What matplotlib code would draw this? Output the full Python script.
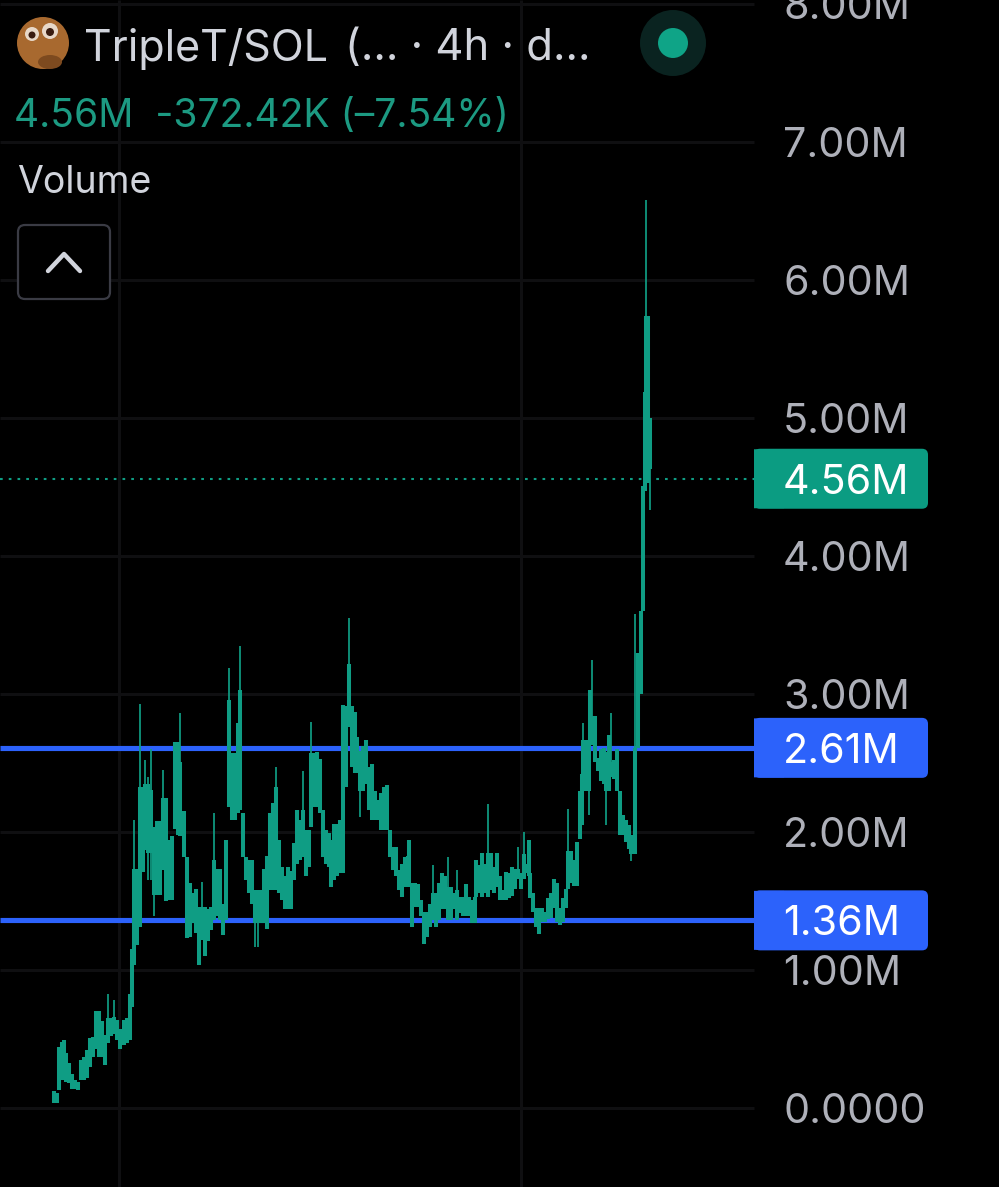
import matplotlib
matplotlib.use("Agg")
import matplotlib.pyplot as plt
from matplotlib.patches import Circle, Ellipse, FancyBboxPatch, Rectangle

plt.rcParams['font.family'] = ['Inter', 'DejaVu Sans']

BG = '#000000'
GRID = '#0f0f11'
TEAL = '#0f9d84'
BLUE = '#2c62fb'
AXIS_TEXT = '#aeb0b9'
HEAD_TEXT = '#d1d4dc'

# hours since first bar, body low, body high (millions)
bar_t = [3, 9, 13, 19, 23, 28, 34, 40, 46, 52, 57, 63, 69, 76, 81, 87, 93, 99, 105, 111,
         117, 123, 129, 136, 143, 149, 156, 160, 164, 170, 176, 181, 186, 192, 198, 204, 209, 216, 222, 228,
         234, 240, 246, 252, 256, 263, 269, 276, 282, 288, 294, 300, 306, 312, 318, 324, 330, 336, 342, 348,
         354, 360, 366, 372, 376, 382, 388, 394, 400, 406, 412, 418, 424, 430, 436, 442, 448, 454, 460, 466,
         472, 478, 484, 490, 496, 502, 508, 514, 518, 523, 529, 535, 541, 547, 553, 558, 564, 570, 576, 582,
         588, 594, 600, 606, 610, 615, 621, 627, 633, 639, 645, 651, 657, 663, 669, 675, 681, 687, 693, 699,
         705, 711, 714, 719, 725, 731, 737, 743, 749, 755, 761, 767, 773, 779, 785, 791, 797, 803, 809, 815,
         821, 827, 833, 839, 845, 848, 854, 860, 866, 872, 878, 884, 890, 896, 902, 908, 914, 920, 926, 932,
         938, 944, 950, 954, 956, 962, 968, 974, 980, 986, 992, 998, 1004, 1010, 1016, 1022, 1028, 1032, 1038, 1044,
         1050, 1056, 1060, 1062, 1068, 1074, 1076, 1080, 1086, 1092, 1098, 1104, 1108, 1114, 1118, 1124, 1130, 1136, 1142, 1148,
         1154, 1158, 1164, 1166, 1172, 1178, 1182, 1186, 1188, 1192, 1196]
bar_low = [.035, .035, .13, .20, .20, .19, .18, .14, .136, .13, .20, .20, .216, .30, .373, .43, .37, .37, .31, .47,
           .52, .54, .49, .43, .46, .47, .49, .735, 1.04, 1.18, 1.315, 1.71, 1.87, 1.85, 1.85, 1.545, 1.545, 1.545, 1.725, 1.50,
           1.51, 1.51, 2.02, 1.98, 1.97, 1.82, 1.23, 1.24, 1.34, 1.27, 1.04, 1.22, 1.10, 1.21, 1.29, 1.36, 1.39, 1.36, 1.255, 1.36,
           2.18, 2.09, 2.09, 2.14, 2.16, 1.82, 1.65, 1.56, 1.48, 1.34, 1.34, 1.34, 1.34, 1.30, 1.58, 1.58, 1.58, 1.56, 1.51, 1.44,
           1.44, 1.44, 1.65, 1.77, 1.80, 1.82, 1.68, 1.75, 2.04, 2.18, 2.18, 2.14, 1.82, 1.77, 1.75, 1.60, 1.65, 1.68, 1.70, 1.70,
           2.33, 2.76, 2.47, 2.43, 2.43, 2.30, 2.30, 2.35, 2.16, 2.09, 2.09, 2.09, 2.015, 2.015, 2.015, 1.82, 1.725, 1.68, 1.58, 1.53,
           1.60, 1.60, 1.60, 1.31, 1.46, 1.46, 1.39, 1.19, 1.24, 1.31, 1.36, 1.31, 1.36, 1.44, 1.44, 1.36, 1.36, 1.44, 1.36, 1.41,
           1.39, 1.39, 1.39, 1.34, 1.34, 1.53, 1.56, 1.53, 1.56, 1.53, 1.58, 1.56, 1.60, 1.51, 1.51, 1.51, 1.52, 1.54, 1.59, 1.66,
           1.59, 1.66, 1.70, 1.68, 1.52, 1.42, 1.31, 1.26, 1.35, 1.35, 1.37, 1.38, 1.45, 1.35, 1.33, 1.35, 1.45, 1.59, 1.63, 1.61,
           1.61, 1.95, 2.05, 2.33, 2.30, 2.30, 2.65, 2.63, 2.51, 2.44, 2.37, 2.35, 2.30, 2.30, 2.40, 2.385, 2.30, 1.98, 1.98, 1.93,
           1.875, 1.84, 1.84, 1.84, 2.61, 3.00, 3.60, 4.47, 4.63, 4.53, 4.63]
bar_high = [.12, .11, .445, .48, .49, .40, .325, .25, .20, .19, .35, .37, .42, .506, .518, .70, .70, .63, .53, .65,
            .65, .66, .64, .57, .64, .65, .83, 1.15, 1.73, 1.73, 2.33, 2.33, 2.35, 2.35, 2.305, 2.04, 2.08, 2.08, 2.245, 2.245,
            1.94, 1.97, 2.655, 2.655, 2.51, 2.15, 1.82, 1.63, 1.56, 1.59, 1.46, 1.46, 1.46, 1.44, 1.46, 1.80, 1.73, 1.73, 1.48, 1.94,
            2.96, 2.57, 2.57, 2.79, 3.03, 2.14, 1.82, 1.80, 1.80, 1.58, 1.58, 1.58, 1.73, 1.83, 2.14, 2.21, 2.33, 1.94, 1.75, 1.68,
            1.75, 1.72, 1.92, 2.16, 2.09, 2.16, 2.015, 2.015, 2.57, 2.57, 2.58, 2.53, 2.16, 2.015, 1.99, 1.94, 2.06, 2.06, 2.09, 2.92,
            2.91, 3.22, 2.91, 2.87, 2.69, 2.59, 2.62, 2.67, 2.47, 2.49, 2.30, 2.23, 2.28, 2.33, 2.34, 2.015, 1.89, 1.89, 1.725, 1.77,
            1.82, 1.83, 1.94, 1.63, 1.63, 1.62, 1.51, 1.42, 1.42, 1.48, 1.56, 1.56, 1.63, 1.70, 1.68, 1.60, 1.60, 1.56, 1.58, 1.53,
            1.53, 1.62, 1.53, 1.51, 1.53, 1.80, 1.76, 1.85, 1.77, 1.85, 1.85, 1.75, 1.85, 1.68, 1.58, 1.71, 1.70, 1.75, 1.73, 1.73,
            1.70, 1.84, 1.77, 1.945, 1.70, 1.56, 1.45, 1.45, 1.45, 1.42, 1.52, 1.56, 1.66, 1.63, 1.45, 1.52, 1.59, 1.86, 1.86, 1.80,
            1.93, 2.30, 2.42, 2.665, 2.665, 2.665, 3.03, 2.84, 2.84, 2.54, 2.60, 2.61, 2.58, 2.70, 2.51, 2.52, 2.60, 2.30, 2.12, 2.09,
            2.05, 1.98, 1.98, 2.61, 3.30, 3.60, 4.51, 5.19, 5.74, 5.74, 5.00]

# thin wicks that stick out of the bodies
wick_t = [111, 123, 164, 176, 186, 192, 198, 204, 222, 256, 300, 324, 354, 376, 406, 412, 448, 502, 518, 594,
          615, 761, 791, 809, 872, 932, 944, 1032, 1062, 1074, 1080, 1108, 1118, 1158, 1166, 1188, 1196]
wick_low = [.47, .54, 1.04, 1.315, 1.87, 1.65, 1.65, 1.39, 1.725, 1.97, 1.22, 1.36, 2.18, 2.16, 1.17, 1.17, 1.58, 1.82, 2.04, 2.76,
            2.11, 1.36, 1.36, 1.36, 1.53, 1.66, 1.66, 1.59, 2.33, 2.12, 2.63, 2.05, 2.40, 1.79, 1.84, 4.63, 4.33]
wick_high = [.83, .78, 2.09, 2.93, 2.52, 2.40, 2.60, 2.04, 2.45, 2.86, 1.64, 2.14, 3.19, 3.35, 1.58, 1.58, 2.47, 2.44, 2.80, 3.55,
             2.59, 1.76, 1.82, 1.725, 2.20, 1.89, 2.00, 2.17, 2.79, 2.665, 3.245, 2.58, 2.86, 1.98, 3.58, 6.58, 5.00]

y_ticks = [0, 1, 2, 3, 4, 5, 6, 7, 8]
y_labels = ['0.0000', '1.00M', '2.00M', '3.00M', '4.00M', '5.00M', '6.00M', '7.00M', '8.00M']
v_grid = [134, 938]
last_value = 4.56
last_label = '4.56M'
level_values = [2.61, 1.36]
level_labels = ['2.61M', '1.36M']

fig = plt.figure(figsize=(9.99, 11.87), dpi=100, facecolor=BG)
ax = fig.add_axes([0, 0, 1, 1], facecolor=BG)
ax.set_xlim(-104, 1894)
ax.set_ylim(-0.572, 8.029)
ax.axis('off')
PANE_END = 1404  # right edge of the chart pane

ax.hlines(y_ticks, -104, PANE_END, color=GRID, lw=2.2, zorder=1)
ax.vlines(v_grid, -0.572, 8.029, color=GRID, lw=2.2, zorder=1)

ax.hlines(level_values, -104, PANE_END, color=BLUE, lw=3.7, zorder=2)
ax.vlines(wick_t, wick_low, wick_high, color=TEAL, lw=1.25, zorder=3)
ax.vlines(bar_t, bar_low, bar_high, color=TEAL, lw=2.9, zorder=3)
ax.hlines(last_value, -104, PANE_END, color=TEAL, lw=1.5, linestyles=(0, (1.3, 2.9)), zorder=2)

for v, lab in zip(y_ticks, y_labels):
    ax.text(1462, v, lab, color=AXIS_TEXT, fontsize=29.7, va='center_baseline', ha='left', zorder=4)

# pixel overlay for the tags and the header
ui = fig.add_axes([0, 0, 1, 1])
ui.set_xlim(0, 999)
ui.set_ylim(1187, 0)
ui.axis('off')
ui.patch.set_alpha(0)


def draw_tag(value, label, color):
    y = ui.transData.inverted().transform(ax.transData.transform((0, value)))[1]
    ui.add_patch(FancyBboxPatch((754, y - 30), 174, 60, boxstyle='round,pad=0,rounding_size=6',
                                fc=color, ec='none', zorder=5))
    ui.add_patch(Rectangle((754, y - 29.5), 30, 59, fc=color, ec='none', snap=False, zorder=5))
    ui.text(783, y, label, color='white', fontsize=29.7, va='center_baseline', ha='left', zorder=6)


draw_tag(last_value, last_label, '#0b9c82')
for v, lab in zip(level_values, level_labels):
    draw_tag(v, lab, BLUE)

# header
ui.add_patch(Circle((43, 43), 26, fc='#a8692f', ec='none', zorder=5))
ui.add_patch(Ellipse((50, 62), 24, 14, fc='#7d4a1f', ec='none', zorder=5))
ui.add_patch(Circle((32, 34), 7, fc='#e8d8c8', ec='none', zorder=6))
ui.add_patch(Circle((50, 31), 8, fc='#e8d8c8', ec='none', zorder=6))
ui.add_patch(Circle((32, 35), 3.5, fc='#3a1c10', ec='none', zorder=7))
ui.add_patch(Circle((50, 32), 4, fc='#3a1c10', ec='none', zorder=7))
ui.text(84, 44, 'TripleT/SOL', color=HEAD_TEXT, fontsize=31, va='center_baseline', zorder=6)
ui.text(345, 44, '(... · 4h · d...', color=HEAD_TEXT, fontsize=31.4, va='center_baseline', zorder=6)
ui.add_patch(Circle((673, 43), 33, fc='#0a2320', ec='none', zorder=5))
ui.add_patch(Circle((673, 43), 15, fc='#0fa487', ec='none', zorder=6))
ui.text(14, 112, '4.56M  -372.42K (–7.54%)', color='#1c9a82', fontsize=28.1, va='center_baseline', zorder=6)
ui.text(17, 179, 'Volume', color=HEAD_TEXT, fontsize=27, va='center_baseline', zorder=6)
ui.add_patch(FancyBboxPatch((18, 225), 92, 74, boxstyle='round,pad=0,rounding_size=7',
                            fc=BG, ec='#3a3b44', lw=1.6, zorder=5))
ui.plot([48, 64, 80], [271, 254, 271], color=HEAD_TEXT, lw=3.2, solid_capstyle='round', zorder=6)

fig.savefig('out.png', dpi=100, facecolor=BG)
